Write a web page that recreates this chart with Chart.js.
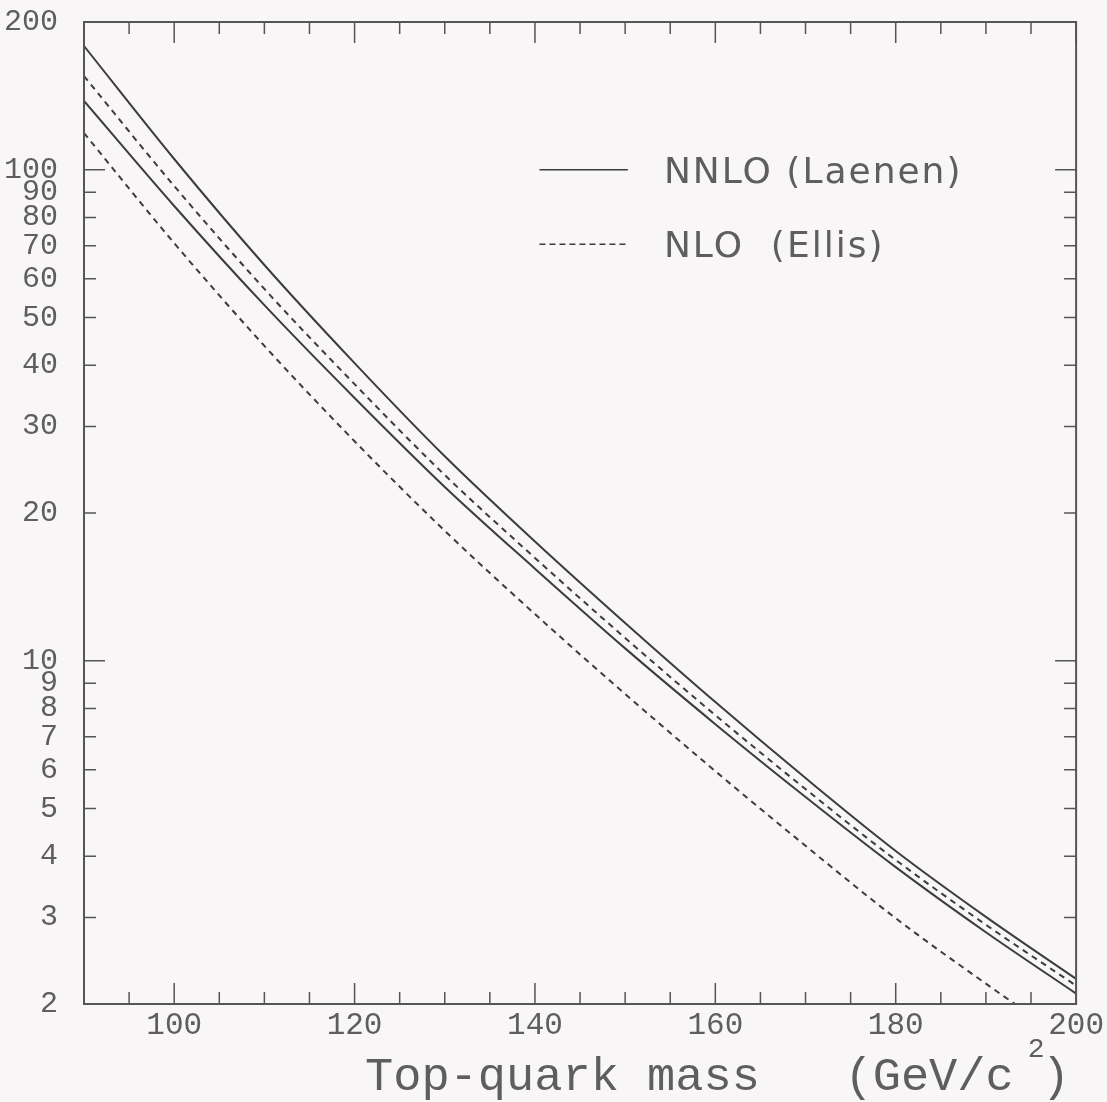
<!DOCTYPE html>
<html lang="en">
<head>
  <meta charset="UTF-8">
  <title>Top-quark cross section vs mass</title>
  <script src="https://cdn.jsdelivr.net/npm/chart.js"></script>
  <style>
    html, body {
      margin: 0;
      padding: 0;
      background: #f8f6f7;
      overflow: hidden;
    }
    #wrap {
      width: 1107px;
      height: 1102px;
    }
  </style>
</head>
<body>

  <div id="wrap"><canvas id="xsecChart"></canvas></div>

  <script>
    // top-quark mass (GeV/c^2)
    const massGeV = [90, 100, 110, 120, 130, 140, 150, 160, 170, 180, 190, 200];

    // NNLO (Laenen) band, upper and lower edge
    const nnloUpper = [178.7, 105.2, 64.0, 40.4, 26.1, 17.5, 11.94, 8.24, 5.77, 4.10, 3.01, 2.25];
    const nnloLower = [138.1, 84.4, 53.0, 34.3, 22.6, 15.4, 10.6, 7.43, 5.28, 3.80, 2.80, 2.10];

    // NLO (Ellis) band, upper and lower edge
    const nloUpper = [155.2, 92.7, 57.2, 36.6, 23.9, 16.2, 11.13, 7.75, 5.48, 3.93, 2.90, 2.18];
    const nloLower = [118.8, 70.9, 43.8, 28.0, 18.4, 12.45, 8.56, 5.96, 4.20, 2.99, 2.20, 1.64];

    // axis ticks
    const xTickLabels = [100, 120, 140, 160, 180, 200];
    const xMinorTicks = [95, 105, 110, 115, 125, 130, 135, 145, 150, 155, 165, 170, 175, 185, 190, 195];
    const yTickLabels = [2, 3, 4, 5, 6, 7, 8, 9, 10, 20, 30, 40, 50, 60, 70, 80, 90, 100, 200];
    const yMajorTicks = [10, 100];
    const yMinorTicks = [3, 4, 5, 6, 7, 8, 9, 20, 30, 40, 50, 60, 70, 80, 90];

    const legendLabels = ['NNLO (Laenen)', 'NLO  (Ellis)'];
    const xTitle = 'Top-quark mass   (GeV/c';
    const xTitleSup = '2';
    const xTitleEnd = ')';

    const ink = '#3c3c3c';
    const frameInk = '#555';
    const textInk = '#5e5e5e';
    const dash = [6, 5];

    const pts = arr => massGeV.map((m, i) => ({ x: m, y: arr[i] }));

    function line(label, arr, dashed) {
      return {
        label: label,
        data: pts(arr),
        borderColor: ink,
        borderWidth: 2,
        borderDash: dashed ? dash : [],
        pointRadius: 0,
        fill: false,
        cubicInterpolationMode: 'monotone'
      };
    }

    // frame, inward ticks, legend and axis title
    const framePlugin = {
      id: 'frame',
      afterDatasetsDraw(chart) {
        const { ctx, chartArea: a, scales } = chart;
        const xs = scales.x, ys = scales.y;
        const major = 21, minor = 12;
        ctx.save();
        ctx.strokeStyle = frameInk;
        ctx.lineWidth = 2;
        ctx.strokeRect(a.left, a.top, a.right - a.left, a.bottom - a.top);
        ctx.lineWidth = 1.5;
        ctx.beginPath();
        const xt = (v, len) => {
          const px = xs.getPixelForValue(v);
          ctx.moveTo(px, a.bottom); ctx.lineTo(px, a.bottom - len);
          ctx.moveTo(px, a.top); ctx.lineTo(px, a.top + len);
        };
        const yt = (v, len) => {
          const py = ys.getPixelForValue(v);
          ctx.moveTo(a.left, py); ctx.lineTo(a.left + len, py);
          ctx.moveTo(a.right, py); ctx.lineTo(a.right - len, py);
        };
        xTickLabels.forEach(v => xt(v, major));
        xMinorTicks.forEach(v => xt(v, minor));
        yMajorTicks.forEach(v => yt(v, major));
        yMinorTicks.forEach(v => yt(v, minor));
        ctx.stroke();

        // legend
        const lx0 = xs.getPixelForValue(140.5), lx1 = xs.getPixelForValue(150.3);
        const tx = xs.getPixelForValue(154.3);
        const rows = [ys.getPixelForValue(100), ys.getPixelForValue(70.5)];
        ctx.strokeStyle = ink;
        ctx.lineWidth = 1.5;
        rows.forEach((py, i) => {
          ctx.setLineDash(i === 0 ? [] : [6, 4]);
          ctx.beginPath();
          ctx.moveTo(lx0, py); ctx.lineTo(lx1, py);
          ctx.stroke();
        });
        ctx.setLineDash([]);
        ctx.fillStyle = textInk;
        ctx.font = '36px "DejaVu Sans"';
        ctx.letterSpacing = '2px';
        ctx.textAlign = 'left';
        ctx.textBaseline = 'alphabetic';
        rows.forEach((py, i) => ctx.fillText(legendLabels[i], tx, py + 13));

        // x axis title with superscript
        ctx.letterSpacing = '0px';
        ctx.font = '47px "Liberation Mono"';
        const x0 = a.left + 281, base = a.bottom + 86;
        ctx.fillText(xTitle, x0, base);
        const w = ctx.measureText(xTitle).width;
        ctx.fillText(xTitleEnd, x0 + w + 28, base);
        ctx.font = '28px "Liberation Mono"';
        ctx.fillText(xTitleSup, x0 + w + 14, base - 33);
        ctx.restore();
      }
    };

    const ctx = document.getElementById('xsecChart').getContext('2d');
    new Chart(ctx, {
      type: 'line',
      data: {
        datasets: [
          line('NNLO (Laenen) upper', nnloUpper, false),
          line('NNLO (Laenen) lower', nnloLower, false),
          line('NLO (Ellis) upper', nloUpper, true),
          line('NLO (Ellis) lower', nloLower, true)
        ]
      },
      options: {
        responsive: true,
        maintainAspectRatio: false,
        animation: false,
        layout: { padding: { top: 22, right: 29, left: 0, bottom: 0 } },
        plugins: {
          legend: { display: false },
          tooltip: { enabled: false }
        },
        scales: {
          x: {
            type: 'linear',
            min: 90,
            max: 200,
            afterBuildTicks(scale) {
              scale.ticks = xTickLabels.map(v => ({ value: v }));
            },
            afterFit(scale) { scale.height = 98; },
            grid: { display: false, drawTicks: false },
            border: { display: false },
            ticks: {
              autoSkip: false,
              maxRotation: 0,
              padding: 3,
              color: textInk,
              font: { family: '"Liberation Mono"', size: 31 },
              callback: v => String(v)
            }
          },
          y: {
            type: 'logarithmic',
            min: 2,
            max: 200,
            afterBuildTicks(scale) {
              scale.ticks = yTickLabels.map(v => ({ value: v }));
            },
            afterFit(scale) {
              scale.width = 84;
              scale.paddingTop = 0;
              scale.paddingBottom = 0;
            },
            grid: { display: false, drawTicks: false },
            border: { display: false },
            ticks: {
              autoSkip: false,
              padding: 26,
              color: textInk,
              font: { family: '"Liberation Mono"', size: 30, lineHeight: 0.5 },
              callback: v => String(v)
            }
          }
        }
      },
      plugins: [framePlugin]
    });
  </script>

</body>
</html>
